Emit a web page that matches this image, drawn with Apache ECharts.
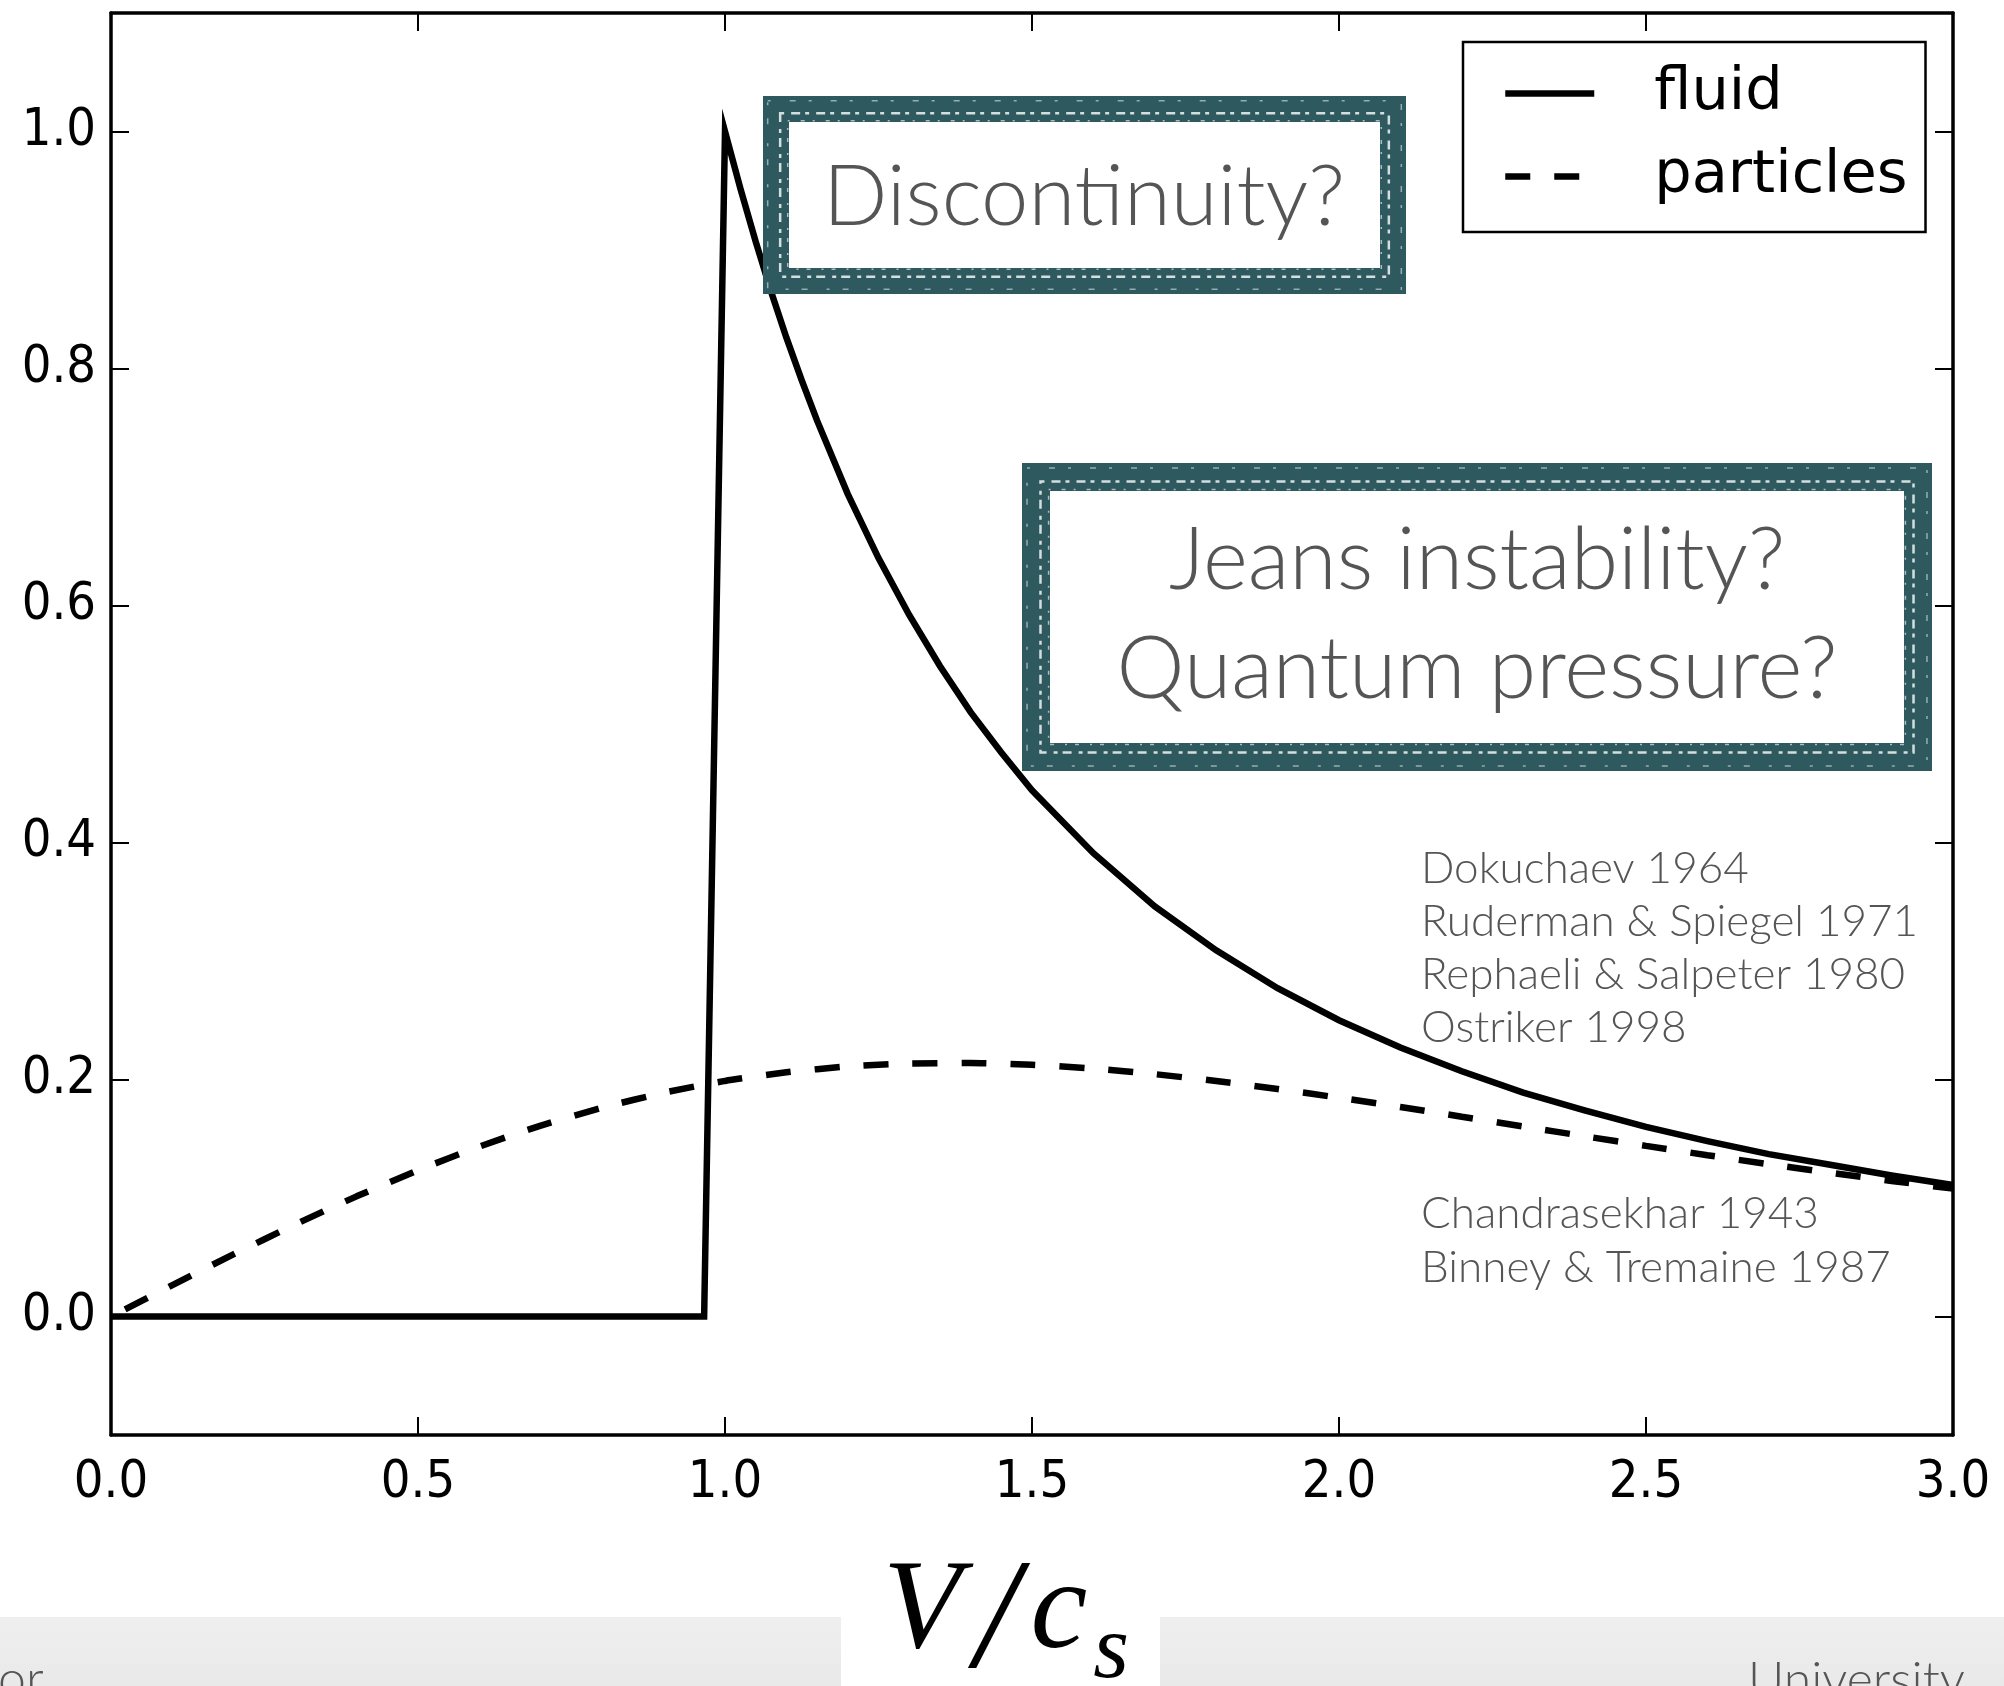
<!DOCTYPE html>
<html>
<head>
<meta charset="utf-8">
<script src="https://cdn.jsdelivr.net/npm/echarts@6/dist/echarts.min.js"></script>
<style>
html,body{margin:0;padding:0;background:#fff;}
#chart{width:2004px;height:1686px;}
</style>
</head>
<body>
<div id="chart"></div>
<script>
// ---- data ----
const fluidX = [0, 0.966, 1.0, 1.025, 1.05, 1.075, 1.1, 1.125, 1.15, 1.2, 1.25, 1.3, 1.35, 1.4, 1.45, 1.5, 1.6, 1.7, 1.8, 1.9, 2.0, 2.1, 2.2, 2.3, 2.4, 2.5, 2.6, 2.7, 2.8, 2.9, 3.0];
const fluidY = [0, 0, 1.0, 0.952, 0.907, 0.865, 0.826, 0.790, 0.756, 0.694, 0.640, 0.592, 0.549, 0.510, 0.476, 0.444, 0.391, 0.346, 0.309, 0.277, 0.250, 0.227, 0.207, 0.189, 0.174, 0.160, 0.148, 0.137, 0.128, 0.119, 0.111];
const particlesX = [0, 0.1, 0.2, 0.3, 0.4, 0.5, 0.6, 0.7, 0.8, 0.9, 1.0, 1.1, 1.2, 1.3, 1.4, 1.5, 1.6, 1.7, 1.8, 1.9, 2.0, 2.1, 2.2, 2.3, 2.4, 2.5, 2.6, 2.7, 2.8, 2.9, 3.0];
const particlesY = [0.000, 0.0265, 0.0526, 0.0777, 0.1014, 0.1234, 0.1434, 0.1611, 0.1762, 0.1888, 0.1988, 0.2061, 0.2110, 0.2135, 0.2139, 0.2124, 0.2092, 0.2045, 0.1987, 0.1920, 0.1846, 0.1768, 0.1686, 0.1604, 0.1521, 0.1440, 0.1361, 0.1285, 0.1213, 0.1144, 0.1079];
const seriesNames = ['fluid', 'particles'];
const xTicks = [0, 0.5, 1.0, 1.5, 2.0, 2.5, 3.0];
const yTicks = [0, 0.2, 0.4, 0.6, 0.8, 1.0];
const annotationTop = 'Discontinuity?';
const annotationMid = ['Jeans instability?', 'Quantum pressure?'];
const refsFluid = ['Dokuchaev 1964', 'Ruderman & Spiegel 1971', 'Rephaeli & Salpeter 1980', 'Ostriker 1998'];
const refsParticles = ['Chandrasekhar 1943', 'Binney & Tremaine 1987'];

const zip = (a, b) => a.map((v, i) => [v, b[i]]);

const chart = echarts.init(document.getElementById('chart'), null, {renderer: 'canvas'});

const tickFont = {fontFamily: 'DejaVu Sans Condensed, DejaVu Sans', fontSize: 52, color: '#000'};
const baseX = {
  type: 'value', min: 0, max: 3, interval: 0.5,
  axisLine: {show: true, onZero: false, lineStyle: {color: '#000', width: 3.5}},
  axisTick: {show: true, inside: true, length: 18, lineStyle: {color: '#000', width: 2}},
  splitLine: {show: false}
};
const baseY = {
  type: 'value', min: -0.1, max: 1.1, splitNumber: 6,
  axisLine: {show: true, onZero: false, lineStyle: {color: '#000', width: 3.5}},
  axisTick: {show: true, inside: true, length: 18, lineStyle: {color: '#000', width: 2}},
  splitLine: {show: false}
};

const annFont = {fontFamily: 'Lato', fontWeight: 300, fill: '#555'};
const boxColor = '#2e5a5f';

function box(x0, y0, x1, y1, bw) {
  const inset = bw / 2;
  return [
    {type: 'rect', z: 100, shape: {x: x0 + inset, y: y0 + inset, width: x1 - x0 - bw, height: y1 - y0 - bw},
     style: {fill: 'none', stroke: boxColor, lineWidth: bw}},
    {type: 'rect', z: 101, shape: {x: x0 + bw * 0.66, y: y0 + bw * 0.66, width: x1 - x0 - bw * 1.32, height: y1 - y0 - bw * 1.32},
     style: {fill: 'none', stroke: 'rgba(255,255,255,0.8)', lineWidth: 2.5, lineDash: [4, 7, 9, 5]}},
    {type: 'rect', z: 101, shape: {x: x0 + bw * 0.18, y: y0 + bw * 0.18, width: x1 - x0 - bw * 0.36, height: y1 - y0 - bw * 0.36},
     style: {fill: 'none', stroke: 'rgba(255,255,255,0.5)', lineWidth: 1.5, lineDash: [3, 19, 6, 13]}},
    {type: 'rect', z: 101, shape: {x: x0 + bw * 0.95, y: y0 + bw * 0.95, width: x1 - x0 - bw * 1.9, height: y1 - y0 - bw * 1.9},
     style: {fill: 'none', stroke: 'rgba(255,255,255,0.6)', lineWidth: 1.5, lineDash: [2, 11, 4, 8]}}
  ];
}

const nameRich = {
  v: {fontFamily: 'Liberation Serif', fontStyle: 'italic', fontSize: 128, lineHeight: 128, color: '#000', verticalAlign: 'bottom', padding: [0, 4, 26, 0]},
  sl: {fontFamily: 'Liberation Serif', fontStyle: 'italic', fontSize: 156, lineHeight: 156, color: '#000', verticalAlign: 'bottom', padding: [0, 12, 0, 10]},
  c: {fontFamily: 'Liberation Serif', fontStyle: 'italic', fontSize: 128, lineHeight: 128, color: '#000', verticalAlign: 'bottom', padding: [0, 4, 26, 0]},
  s: {fontFamily: 'Liberation Serif', fontStyle: 'italic', fontSize: 92, lineHeight: 92, color: '#000', verticalAlign: 'bottom', padding: [0, 0, 4, 2]}
};

const option = {
  backgroundColor: '#fff',
  animation: false,
  grid: {left: 111, right: 51, top: 13, bottom: 251, containLabel: false, outerBoundsMode: 'none'},
  legend: {
    orient: 'vertical', left: 1463, top: 42,
    padding: [22, 18, 26, 39], itemGap: 24, itemWidth: 89, itemHeight: 14,
    borderColor: '#000', borderWidth: 2.5, backgroundColor: '#fff',
    itemStyle: {opacity: 0},
    lineStyle: {width: 6.5, dashOffset: 0},
    textStyle: {fontFamily: 'DejaVu Sans', fontSize: 59, color: '#000', padding: [0, 0, 0, 55]},
    data: seriesNames
  },
  xAxis: [
    Object.assign({}, baseX, {
      position: 'bottom',
      axisLabel: Object.assign({margin: 22, formatter: v => v.toFixed(1)}, tickFont),
      name: '{v|V}{sl|/}{c|c}{s|s}', nameLocation: 'middle', nameGap: 112,
      nameTextStyle: {padding: [0, 52, 0, 0], rich: nameRich}
    }),
    Object.assign({}, baseX, {position: 'top', axisLabel: {show: false}})
  ],
  yAxis: [
    Object.assign({}, baseY, {
      position: 'left',
      axisLabel: Object.assign({margin: 15, showMinLabel: false, showMaxLabel: false, formatter: v => v.toFixed(1)}, tickFont)
    }),
    Object.assign({}, baseY, {position: 'right', axisLabel: {show: false}})
  ],
  series: [
    {
      name: seriesNames[0], type: 'line', xAxisIndex: 0, yAxisIndex: 0,
      data: zip(fluidX, fluidY), showSymbol: false, symbol: 'none',
      lineStyle: {color: '#000', width: 6.5, join: 'miter'}, itemStyle: {color: '#000'},
      z: 3
    },
    {
      name: seriesNames[1], type: 'line', xAxisIndex: 0, yAxisIndex: 0,
      data: zip(particlesX, particlesY), showSymbol: false, symbol: 'none', smooth: 0.2,
      lineStyle: {color: '#000', width: 6.5, type: [25, 24], dashOffset: 33}, itemStyle: {color: '#000'},
      z: 4
    }
  ],
  graphic: [].concat(
    box(763, 96, 1406, 294, 26),
    box(1022, 463, 1932, 771, 28),
    [
      {type: 'text', z: 102, style: Object.assign({text: annotationTop, x: 1084, y: 198, fontSize: 85, align: 'center', verticalAlign: 'middle'}, annFont)},
      {type: 'text', z: 102, style: Object.assign({text: annotationMid.join('\n'), x: 1477, y: 616, fontSize: 86, lineHeight: 109, align: 'center', verticalAlign: 'middle'}, annFont)},
      {type: 'text', z: 102, style: Object.assign({text: refsFluid.join('\n'), x: 1421, y: 948, fontSize: 44, lineHeight: 53, align: 'left', verticalAlign: 'middle'}, annFont)},
      {type: 'text', z: 102, style: Object.assign({text: refsParticles.join('\n'), x: 1421, y: 1241, fontSize: 44, lineHeight: 54, align: 'left', verticalAlign: 'middle'}, annFont)},
      {type: 'rect', z: 90, shape: {x: 0, y: 1617, width: 841, height: 69},
       style: {fill: new echarts.graphic.LinearGradient(0, 0, 0, 1, [{offset: 0, color: '#efeff0'}, {offset: 1, color: '#e9e9ea'}])}},
      {type: 'rect', z: 90, shape: {x: 1160, y: 1617, width: 844, height: 69},
       style: {fill: new echarts.graphic.LinearGradient(0, 0, 0, 1, [{offset: 0, color: '#efeff0'}, {offset: 1, color: '#e9e9ea'}])}},
      {type: 'text', z: 95, style: Object.assign({text: 'or', x: -2, y: 1680, fontSize: 50, align: 'left', verticalAlign: 'middle'}, annFont)},
      {type: 'text', z: 95, style: Object.assign({text: 'University', x: 1748, y: 1681, fontSize: 50, align: 'left', verticalAlign: 'middle'}, annFont)}
    ]
  )
};
chart.setOption(option);
</script>
</body>
</html>
